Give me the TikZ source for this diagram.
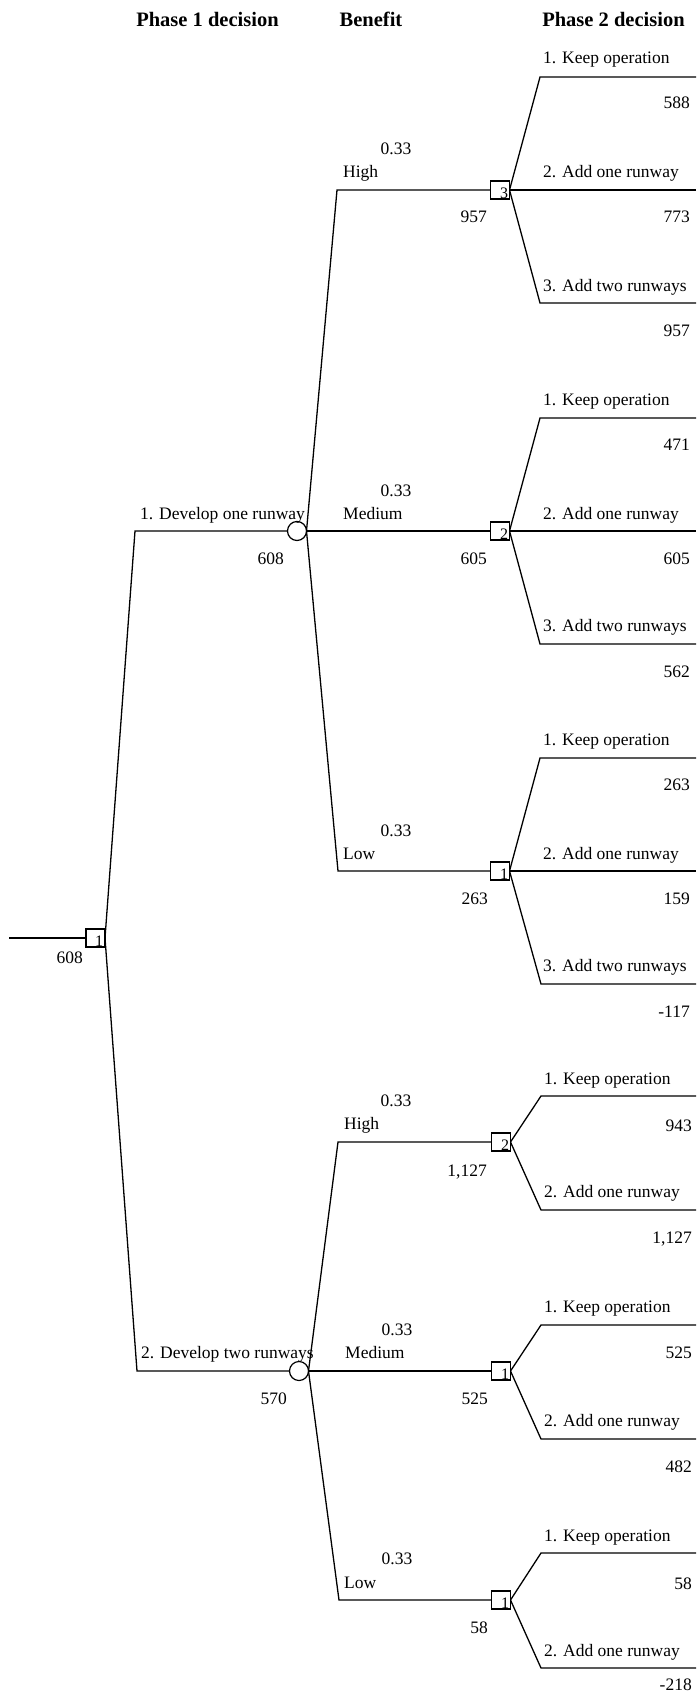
\documentclass[tikz,border=0pt]{standalone}
\usepackage{fontspec}
\setmainfont{Liberation Serif}
\begin{document}
\begin{tikzpicture}[x=1pt,y=-1pt,
  branch/.style={line width=1.3pt, line join=miter},
  decision/.style={draw, line width=1.2pt, rectangle, minimum width=19pt, minimum height=18pt, inner sep=0pt, fill=white},
  chance/.style={draw, line width=1.2pt, circle, minimum size=19pt, inner sep=0pt, fill=white},
  txt/.style={inner sep=0pt, font=\fontsize{17.5}{21}\selectfont},
  lbl/.style={txt, anchor=base west},
  val/.style={txt, anchor=base east},
  prob/.style={txt, anchor=base},
  head/.style={inner sep=0pt, anchor=base, font=\fontsize{20.5}{24}\selectfont\bfseries},
  sqnum/.style={inner sep=0pt, font=\fontsize{16}{18}\selectfont}]
\useasboundingbox (0,0) rectangle (696,1693);

% column headings
\node[head] (h1) at (207.5,27) {Phase 1 decision};
\node[head] (h2) at (371,27) {Benefit};
\node[head] (h3) at (613.5,27) {Phase 2 decision};

% ---------- coordinates of corners and branch ends ----------
\coordinate (start) at (9,938);
\coordinate (p1a) at (135,531);
\coordinate (p1b) at (137,1371);
\coordinate (bA) at (337,190);
\coordinate (bC) at (338,871);
\coordinate (bD) at (338,1142);
\coordinate (bF) at (339,1600);
% group A
\coordinate (A1) at (540,77);  \coordinate (A1e) at (696,77);
\coordinate (A2e) at (696,190);
\coordinate (A3) at (540,303); \coordinate (A3e) at (696,303);
% group B
\coordinate (B1) at (540,418); \coordinate (B1e) at (696,418);
\coordinate (B2e) at (696,531);
\coordinate (B3) at (540,644); \coordinate (B3e) at (696,644);
% group C
\coordinate (C1) at (540,758); \coordinate (C1e) at (696,758);
\coordinate (C2e) at (696,871);
\coordinate (C3) at (541,984); \coordinate (C3e) at (696,984);
% group D
\coordinate (D1) at (541,1096); \coordinate (D1e) at (696,1096);
\coordinate (D2) at (541,1210); \coordinate (D2e) at (696,1210);
% group E
\coordinate (E1) at (541,1325); \coordinate (E1e) at (696,1325);
\coordinate (E2) at (541,1439); \coordinate (E2e) at (696,1439);
% group F
\coordinate (F1) at (541,1553); \coordinate (F1e) at (696,1553);
\coordinate (F2) at (541,1668); \coordinate (F2e) at (696,1668);

% ---------- connectors ----------
\draw[branch] (start) -- (95.5,938);
\draw[branch] (105,938) -- (p1a) -- (297,531);
\draw[branch] (105,938) -- (p1b) -- (299,1371);

\draw[branch] (306.5,531) -- (bA) -- (500,190);
\draw[branch] (306.5,531) -- (500,531);
\draw[branch] (306.5,531) -- (bC) -- (500,871);
\draw[branch] (308.5,1371) -- (bD) -- (501,1142);
\draw[branch] (308.5,1371) -- (501,1371);
\draw[branch] (308.5,1371) -- (bF) -- (501,1600);

\draw[branch] (509.5,190) -- (A1) -- (A1e);
\draw[branch] (509.5,190) -- (A2e);
\draw[branch] (509.5,190) -- (A3) -- (A3e);
\draw[branch] (509.5,531) -- (B1) -- (B1e);
\draw[branch] (509.5,531) -- (B2e);
\draw[branch] (509.5,531) -- (B3) -- (B3e);
\draw[branch] (509.5,871) -- (C1) -- (C1e);
\draw[branch] (509.5,871) -- (C2e);
\draw[branch] (509.5,871) -- (C3) -- (C3e);
\draw[branch] (510.5,1142) -- (D1) -- (D1e);
\draw[branch] (510.5,1142) -- (D2) -- (D2e);
\draw[branch] (510.5,1371) -- (E1) -- (E1e);
\draw[branch] (510.5,1371) -- (E2) -- (E2e);
\draw[branch] (510.5,1600) -- (F1) -- (F1e);
\draw[branch] (510.5,1600) -- (F2) -- (F2e);

% ---------- decision and chance nodes ----------
\node[decision] (r) at (95.5,938) {};
\node[sqnum] (rn) at (99,941) {1};
\node[chance] (c1) at (297,531) {};
\node[chance] (c2) at (299,1371) {};

\node[decision] (sA) at (500,190) {};  \node[sqnum] (sAn) at (504,193) {3};
\node[decision] (sB) at (500,531) {};  \node[sqnum] (sBn) at (504,534) {2};
\node[decision] (sC) at (500,871) {};  \node[sqnum] (sCn) at (504,874) {1};
\node[decision] (sD) at (501,1142) {}; \node[sqnum] (sDn) at (505,1145) {2};
\node[decision] (sE) at (501,1371) {}; \node[sqnum] (sEn) at (505,1374) {1};
\node[decision] (sF) at (501,1600) {}; \node[sqnum] (sFn) at (505,1603) {1};

% ---------- phase 1 ----------
\node[val] (rv) at (83,963) {608};
\node[lbl] (o1) at (140,519) {1. Develop one runway};
\node[val] (c1v) at (284,564) {608};
\node[lbl] (o2) at (141,1358) {2. Develop two runways};
\node[val] (c2v) at (287,1404) {570};

% ---------- benefit ----------
\node[prob] (pA) at (396,155) {0.33}; \node[lbl] (nA) at (343,178) {High};
\node[prob] (pB) at (396,496) {0.33}; \node[lbl] (nB) at (343,519) {Medium};
\node[prob] (pC) at (396,836) {0.33}; \node[lbl] (nC) at (343,859) {Low};
\node[prob] (pD) at (396,1106) {0.33}; \node[lbl] (nD) at (344,1129) {High};
\node[prob] (pE) at (397,1335) {0.33}; \node[lbl] (nE) at (345,1358) {Medium};
\node[prob] (pF) at (397,1564) {0.33}; \node[lbl] (nF) at (344,1588) {Low};

\node[val] (vA) at (487,223) {957};
\node[val] (vB) at (487,564) {605};
\node[val] (vC) at (488,904) {263};
\node[val] (vD) at (487,1176) {1,127};
\node[val] (vE) at (488,1404) {525};
\node[val] (vF) at (488,1633) {58};

% ---------- phase 2 ----------
\node[lbl] (A1l) at (543,64) {1. Keep operation};    \node[val] (A1v) at (690,109) {588};
\node[lbl] (A2l) at (543,178) {2. Add one runway};   \node[val] (A2v) at (690,223) {773};
\node[lbl] (A3l) at (543,291) {3. Add two runways};  \node[val] (A3v) at (690,336) {957};

\node[lbl] (B1l) at (543,405) {1. Keep operation};   \node[val] (B1v) at (690,450) {471};
\node[lbl] (B2l) at (543,519) {2. Add one runway};   \node[val] (B2v) at (690,564) {605};
\node[lbl] (B3l) at (543,631) {3. Add two runways};  \node[val] (B3v) at (690,677) {562};

\node[lbl] (C1l) at (543,745) {1. Keep operation};   \node[val] (C1v) at (690,790) {263};
\node[lbl] (C2l) at (543,859) {2. Add one runway};   \node[val] (C2v) at (690,904) {159};
\node[lbl] (C3l) at (543,971) {3. Add two runways};  \node[val] (C3v) at (690,1017) {-117};

\node[lbl] (D1l) at (544,1084) {1. Keep operation};  \node[val] (D1v) at (692,1131) {943};
\node[lbl] (D2l) at (544,1197) {2. Add one runway};  \node[val] (D2v) at (692,1243) {1,127};

\node[lbl] (E1l) at (544,1312) {1. Keep operation};  \node[val] (E1v) at (692,1358) {525};
\node[lbl] (E2l) at (544,1426) {2. Add one runway};  \node[val] (E2v) at (692,1472) {482};

\node[lbl] (F1l) at (544,1541) {1. Keep operation};  \node[val] (F1v) at (692,1589) {58};
\node[lbl] (F2l) at (544,1656) {2. Add one runway};  \node[val] (F2v) at (692,1690) {-218};
\end{tikzpicture}
\end{document}
